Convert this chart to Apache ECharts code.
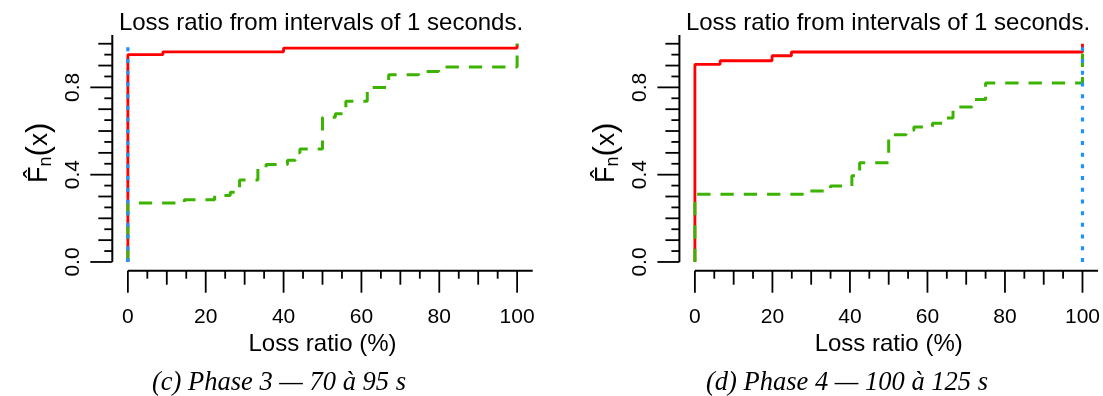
<!DOCTYPE html>
<html>
<head>
<meta charset="utf-8">
<script src="https://cdn.jsdelivr.net/npm/echarts@6/dist/echarts.min.js"></script>
<style>
  html, body { margin: 0; padding: 0; background: #fff; }
  #chart { width: 1103px; height: 396px; }
</style>
</head>
<body>
<div id="chart"></div>
<script>
// Empirical CDFs of the loss ratio, per 1-second interval, for two phases.
// Each curve: jump positions (loss ratio, %) and the CDF level reached there.

// Phase 3 (70 to 95 s)
const phase3RedX   = [0, 9, 40, 100];
const phase3RedY   = [0.95, 0.963, 0.98, 1.0];
const phase3GreenX = [0, 14.5, 22.3, 26.3, 28.7, 33.4, 35.5, 41, 43.1, 44.2, 50, 53.3, 56, 61.5, 62.5, 67, 74.7, 79.8, 100];
const phase3GreenY = [0.27, 0.285, 0.305, 0.319, 0.376, 0.432, 0.447, 0.466, 0.50, 0.518, 0.663, 0.679, 0.736, 0.786, 0.80, 0.858, 0.873, 0.893, 1.0];
const phase3BlueX  = [0];
const phase3BlueY  = [1.0];

// Phase 4 (100 to 125 s)
const phase4RedX   = [0, 6.5, 19.9, 24.9, 100];
const phase4RedY   = [0.905, 0.922, 0.945, 0.962, 1.0];
const phase4GreenX = [0, 28.5, 35, 40.5, 42.5, 50, 54.5, 56.5, 61.3, 64.5, 66.6, 71.5, 75, 100];
const phase4GreenY = [0.31, 0.325, 0.348, 0.395, 0.455, 0.583, 0.603, 0.618, 0.636, 0.66, 0.71, 0.745, 0.82, 1.0];
const phase4BlueX  = [100];
const phase4BlueY  = [1.0];

// Axis labels and tick marks
const xTickLabels = [0, 20, 40, 60, 80, 100];
const xMidTicks   = [10, 30, 50, 70, 90];
const xMinorTicks = [5, 15, 25, 35, 45, 55, 65, 75, 85, 95];
const yTickLabels = [0, 0.4, 0.8];
const yMidTicks   = [0.1, 0.2, 0.3, 0.5, 0.6, 0.7, 0.9, 1.0];
const yMinorTicks = [0.05, 0.15, 0.25, 0.35, 0.45, 0.55, 0.65, 0.75, 0.85, 0.95];

const titleText = 'Loss ratio from intervals of 1 seconds.';
const xName = 'Loss ratio (%)';
const captions = ['(c) Phase 3 \u2014 70 \u00e0 95 s', '(d) Phase 4 \u2014 100 \u00e0 125 s'];

const X_MIN = -4, X_MAX = 104, Y_MIN = -0.04, Y_MAX = 1.04;
const SANS = '"Liberation Sans", Arial, Helvetica, sans-serif';
const SERIF = '"Liberation Serif", "Times New Roman", serif';
const RED = '#ff0000', GREEN = '#3cb300', BLUE = '#1e90ff';
const TICK_LEN = [22, 14, 8];

const panels = [
  { left: 112.3, red: [phase3RedX, phase3RedY], green: [phase3GreenX, phase3GreenY], blue: [phase3BlueX, phase3BlueY] },
  { left: 679.4, red: [phase4RedX, phase4RedY], green: [phase4GreenX, phase4GreenY], blue: [phase4BlueX, phase4BlueY] }
];
const GRID_TOP = 35, GRID_W = 420.4, GRID_H = 235.7;

// ECDF drawn from its first jump: vertical from 0, then steps
function stepData(xs, ys) {
  const pts = [[xs[0], 0]];
  xs.forEach((x, i) => pts.push([x, ys[i]]));
  return pts;
}

function tickData() {
  const d = [];
  xTickLabels.forEach(v => d.push([v, Y_MIN, 0, 0]));
  xMidTicks.forEach(v => d.push([v, Y_MIN, 1, 0]));
  xMinorTicks.forEach(v => d.push([v, Y_MIN, 2, 0]));
  yTickLabels.forEach(v => d.push([X_MIN, v, 0, 1]));
  yMidTicks.forEach(v => d.push([X_MIN, v, 1, 1]));
  yMinorTicks.forEach(v => d.push([X_MIN, v, 2, 1]));
  return d;
}

const grid = [], xAxis = [], yAxis = [], series = [], graphic = [];

panels.forEach((p, gi) => {
  grid.push({ left: p.left, top: GRID_TOP, width: GRID_W, height: GRID_H });
  xAxis.push({
    type: 'value', gridIndex: gi, min: X_MIN, max: X_MAX,
    axisLine: { show: false }, axisTick: { show: false }, splitLine: { show: false },
    axisLabel: { customValues: xTickLabels, fontSize: 21, fontFamily: SANS, color: '#000', margin: 36 },
    name: xName, nameLocation: 'middle', nameGap: 60,
    nameTextStyle: { fontSize: 24, fontFamily: SANS, color: '#000' }
  });
  yAxis.push({
    type: 'value', gridIndex: gi, min: Y_MIN, max: Y_MAX,
    axisLine: { show: false }, axisTick: { show: false }, splitLine: { show: false },
    axisLabel: {
      customValues: yTickLabels, rotate: 90, fontSize: 21, fontFamily: SANS, color: '#000', margin: 29,
      formatter: v => v.toFixed(1)
    },
    name: '{F|F\u0302}{n|n}{p|(}{x|x}{p|)}', nameLocation: 'middle', nameRotate: 90, nameGap: 57,
    nameTextStyle: {
      color: '#000',
      rich: {
        F: { fontSize: 27, fontFamily: SANS, color: '#000' },
        n: { fontSize: 18, fontFamily: SANS, color: '#000', verticalAlign: 'bottom', padding: [10, 0, 0, 0] },
        p: { fontSize: 31, fontFamily: SANS, color: '#000' },
        x: { fontSize: 26, fontFamily: SANS, color: '#000' }
      }
    }
  });

  const common = { type: 'line', xAxisIndex: gi, yAxisIndex: gi, step: 'end', symbol: 'none', clip: false, animation: false, silent: true };
  series.push(Object.assign({}, common, {
    name: 'red' + gi, data: stepData(p.red[0], p.red[1]),
    lineStyle: { color: RED, width: 2.8 }
  }));
  series.push(Object.assign({}, common, {
    name: 'green' + gi, data: stepData(p.green[0], p.green[1]),
    lineStyle: { color: GREEN, width: 3, type: [13.3, 10], cap: 'butt' }
  }));
  series.push(Object.assign({}, common, {
    name: 'blue' + gi, data: stepData(p.blue[0], p.blue[1]),
    lineStyle: { color: BLUE, width: 3.2, type: [4, 7.7], cap: 'butt' }
  }));

  // axis lines: x from 0 to the right edge, y from 0 to the top edge
  series.push({
    type: 'line', xAxisIndex: gi, yAxisIndex: gi, symbol: 'none', clip: false, animation: false, silent: true,
    data: [[0, Y_MIN], [X_MAX, Y_MIN]], lineStyle: { color: '#000', width: 2 }
  });
  series.push({
    type: 'line', xAxisIndex: gi, yAxisIndex: gi, symbol: 'none', clip: false, animation: false, silent: true,
    data: [[X_MIN, 0], [X_MIN, Y_MAX]], lineStyle: { color: '#000', width: 2 }
  });
  // tick marks, three lengths
  series.push({
    type: 'custom', xAxisIndex: gi, yAxisIndex: gi, clip: false, animation: false, silent: true,
    encode: { x: 0, y: 1 },
    data: tickData(),
    renderItem: (params, api) => {
      const pt = api.coord([api.value(0), api.value(1)]);
      const len = TICK_LEN[api.value(2)];
      const onY = api.value(3) === 1;
      return {
        type: 'line',
        shape: onY ? { x1: pt[0], y1: pt[1], x2: pt[0] - len, y2: pt[1] }
                   : { x1: pt[0], y1: pt[1], x2: pt[0], y2: pt[1] + len },
        style: { stroke: '#000', lineWidth: 1.8 }
      };
    }
  });
});

// panel titles and captions
[321, 888].forEach(cx => graphic.push({
  type: 'text', x: cx, y: 23,
  style: { text: titleText, fill: '#000', font: '24px ' + SANS, align: 'center', verticalAlign: 'middle' }
}));
[[279, captions[0]], [847, captions[1]]].forEach(([cx, t]) => graphic.push({
  type: 'text', x: cx, y: 383,
  style: { text: t, fill: '#000', font: 'italic 26.5px ' + SERIF, align: 'center', verticalAlign: 'middle' }
}));

const chart = echarts.init(document.getElementById('chart'), null, { renderer: 'canvas' });
chart.setOption({
  backgroundColor: '#fff',
  animation: false,
  grid, xAxis, yAxis, series, graphic
});
</script>
</body>
</html>
